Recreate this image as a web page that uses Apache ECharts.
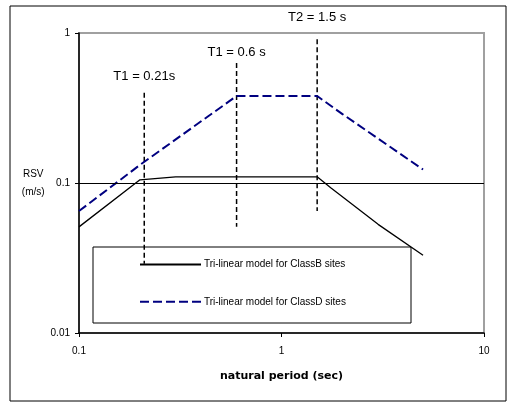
<!DOCTYPE html>
<html>
<head>
<meta charset="utf-8">
<script src="https://cdn.jsdelivr.net/npm/echarts@6/dist/echarts.min.js"></script>
<style>html,body{margin:0;padding:0;background:#fff}#c{width:509px;height:403px}</style>
</head>
<body>
<div id="c"></div>
<script>
// Data
const periodB = [0.1, 0.2, 0.3, 1.5, 1.75, 3, 5];
const rsvB    = [0.051, 0.105, 0.11, 0.11, 0.093, 0.053, 0.033];
const periodD = [0.1, 0.2, 0.6, 1.5, 2, 5];
const rsvD    = [0.065, 0.132, 0.38, 0.38, 0.288, 0.123];
const markerPeriods = [0.21, 0.6, 1.5];
const markerTops    = [0.40, 0.63, 0.91];
const markerBottoms = [0.029, 0.051, 0.065];
const markerLabels  = ['T1 = 0.21s', 'T1 = 0.6 s', 'T2 = 1.5 s'];
const xTicks = [0.1, 1, 10];
const yTicks = [0.01, 0.1, 1];
const seriesNames = ['Tri-linear model for ClassB sites', 'Tri-linear model for ClassD sites'];

const FONT = 'Liberation Sans, Arial, sans-serif';
const labelDist = [9, 4, 15];

const chart = echarts.init(document.getElementById('c'), null, {renderer: 'canvas'});

const markerSeries = markerPeriods.map((p, i) => ({
  type: 'line',
  name: 'marker' + i,
  data: [
    {value: [p, markerTops[i]], label: {show: true, position: 'top', distance: labelDist[i],
      formatter: markerLabels[i], fontSize: 13, fontFamily: FONT, color: '#000'}},
    {value: [p, markerBottoms[i]], label: {show: false}}
  ],
  symbol: 'circle', symbolSize: 1, showSymbol: true,
  itemStyle: {color: 'rgba(0,0,0,0)'},
  lineStyle: {color: '#000', width: 1.5, type: [5, 3]},
  silent: true,
  z: 3
}));

const fmt = v => String(+(+v).toPrecision(3));

chart.setOption({
  animation: false,
  backgroundColor: '#fff',
  grid: {left: 79, right: 25, top: 33, bottom: 70, show: true, borderColor: '#a0a0a0', borderWidth: 2, backgroundColor: 'transparent'},
  graphic: [
    {type: 'rect', shape: {x: 10, y: 6, width: 496, height: 395}, style: {fill: 'none', stroke: '#000', lineWidth: 1}, z: 0},
    {type: 'rect', shape: {x: 93, y: 247, width: 318, height: 76}, style: {fill: 'none', stroke: '#000', lineWidth: 1}, z: 1}
  ],
  legend: {
    data: seriesNames,
    orient: 'vertical',
    left: 139, top: 259,
    padding: 0,
    itemWidth: 61, itemHeight: 14, itemGap: 26,
    itemStyle: {opacity: 0},
    textStyle: {fontSize: 10, fontFamily: FONT, color: '#000', padding: [0, 0, 0, -2]}
  },
  xAxis: {
    type: 'log', logBase: 10, min: xTicks[0], max: xTicks[xTicks.length - 1],
    name: 'natural period (sec)', nameLocation: 'middle', nameGap: 38,
    nameTextStyle: {fontSize: 11, fontWeight: 'bold', fontFamily: 'DejaVu Sans, sans-serif', color: '#000'},
    axisLine: {lineStyle: {color: '#000', width: 1.5}},
    axisTick: {show: true, length: 4, inside: false, lineStyle: {color: '#000'}},
    minorTick: {show: false},
    axisLabel: {fontSize: 10, fontFamily: FONT, color: '#000', margin: 13, formatter: fmt},
    splitLine: {show: false}
  },
  yAxis: {
    type: 'log', logBase: 10, min: yTicks[0], max: yTicks[yTicks.length - 1],
    name: 'RSV\n(m/s)', nameLocation: 'middle', nameRotate: 0, nameGap: 37,
    nameTextStyle: {fontSize: 10, fontFamily: FONT, color: '#000', align: 'center', lineHeight: 18, padding: [0, 0, 6, 0]},
    axisLine: {lineStyle: {color: '#000', width: 1.5}},
    axisTick: {show: true, length: 4, inside: false, lineStyle: {color: '#000'}},
    axisLabel: {fontSize: 10, fontFamily: FONT, color: '#000', margin: 9, formatter: fmt},
    splitLine: {show: false}
  },
  series: [
    {
      type: 'line', name: seriesNames[0],
      data: periodB.map((p, i) => [p, rsvB[i]]),
      symbol: 'none',
      lineStyle: {color: '#000', width: 1.3, type: 'solid'},
      itemStyle: {color: '#000'},
      z: 4,
      markLine: {
        silent: true, symbol: 'none', label: {show: false},
        lineStyle: {color: '#000', width: 1, type: 'solid'},
        data: [{yAxis: 0.1}]
      }
    },
    {
      type: 'line', name: seriesNames[1],
      data: periodD.map((p, i) => [p, rsvD[i]]),
      symbol: 'none',
      lineStyle: {color: '#000080', width: 2, type: [9, 4]},
      itemStyle: {color: '#000080'},
      z: 4
    },
    ...markerSeries
  ]
});
</script>
</body>
</html>
